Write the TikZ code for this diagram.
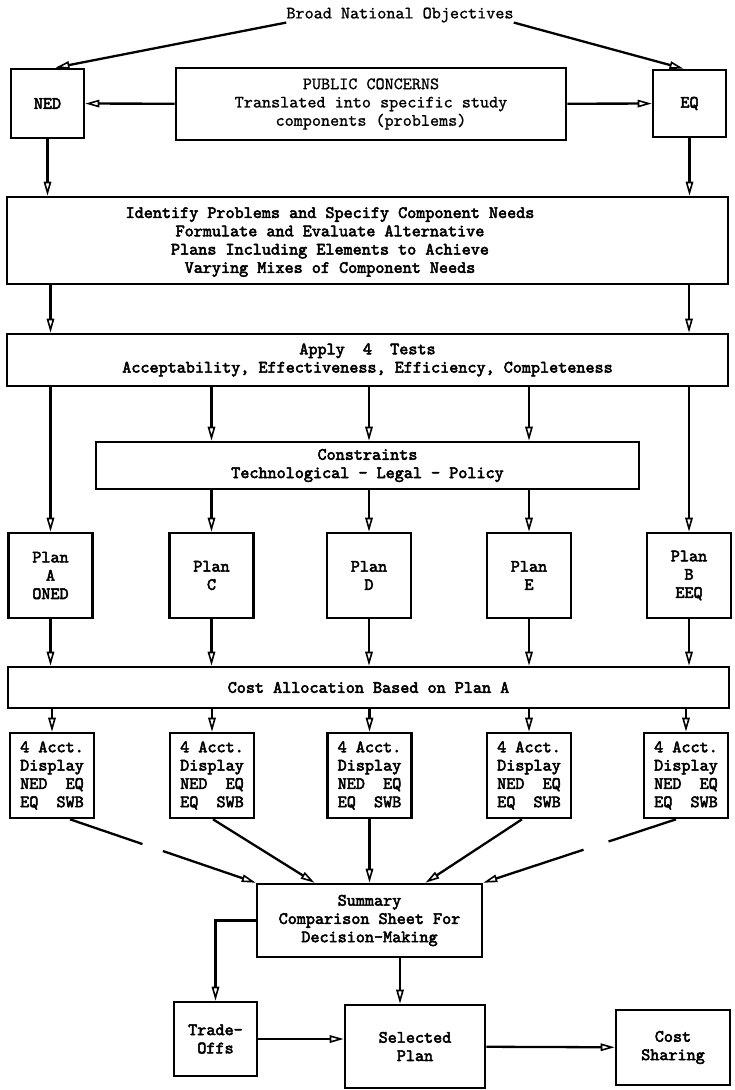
\documentclass[tikz,border=0pt]{standalone}
\usepackage{fontspec}
\setmonofont{lmmono10-regular.otf}[UprightFeatures={FakeBold=1},
  BoldFont=lmmono10-regular.otf,BoldFeatures={FakeBold=3}]
\usetikzlibrary{positioning,calc,arrows.meta}

\begin{document}
\begin{tikzpicture}[
  x=1pt,y=-1pt,
  every node/.style={font=\ttfamily\fontsize{17.3}{18.3}\selectfont,align=center,inner sep=0pt},
  heavy/.style={font=\ttfamily\bfseries\fontsize{17.3}{18.3}\selectfont},
  box/.style={draw,line width=2.6pt},
  plan_box/.style={box,heavy,minimum width=84pt,minimum height=85pt},
  acct_box/.style={box,heavy,minimum width=84pt,minimum height=85pt},
  arr/.style={line width=2.3pt,-{Triangle[open,length=14pt,width=7.5pt,line width=1.6pt]}},
  seg/.style={line width=2.3pt}
  ]
  \useasboundingbox[fill=white] (0,0) rectangle (734,1090);

  \node (Title) at (400,15) {Broad National Objectives};
  \node[box,heavy,minimum width=73pt,minimum height=69pt] (NED) at (47.5,103.5) {NED};
  \node[box,minimum width=390pt,minimum height=72pt] (Pub) at (371,104)
    {PUBLIC CONCERNS\\Translated into specific study\\components (problems)};
  \node[box,heavy,minimum width=73pt,minimum height=67pt] (EQ) at (689.5,103.5) {EQ};

  \node[box,minimum width=721pt,minimum height=87pt] (Ident) at (367.5,240.5) {};
  \node[heavy] (IdentTxt) at (330,242)
    {Identify Problems and Specify Component Needs\\Formulate and Evaluate Alternative\\
     Plans Including Elements to Achieve\\Varying Mixes of Component Needs};

  \node[box,heavy,minimum width=721pt,minimum height=52pt] (Tests) at (367.5,360)
    {Apply~~4~~Tests\\Acceptability, Effectiveness, Efficiency, Completeness};
  \node[box,heavy,minimum width=543pt,minimum height=47pt] (Constr) at (367.5,465.5)
    {Constraints\\Technological - Legal - Policy};

  \node[plan_box] (PlanA) at (50.5,575.5) {Plan\\A\\ONED};
  \node[plan_box] (PlanC) at (211.5,575.5) {Plan\\C};
  \node[plan_box] (PlanD) at (369,575.5) {Plan\\D};
  \node[plan_box] (PlanE) at (529,575.5) {Plan\\E};
  \node[plan_box] (PlanB) at (689,575.5) {Plan\\B\\EEQ};

  \node[box,heavy,minimum width=721pt,minimum height=41pt] (Alloc) at (368.5,687.5)
    {Cost Allocation Based on Plan A};

  \foreach \n/\x in {A/52,C/212,D/369.5,E/529,B/686}
    \node[acct_box] (Acct\n) at (\x,775.5) {4 Acct.\\Display\\NED~~EQ\\EQ~~SWB};

  \node[box,heavy,minimum width=225pt,minimum height=73pt] (Summ) at (369.5,920.5)
    {Summary\\Comparison Sheet For\\Decision-Making};
  \node[box,heavy,minimum width=83pt,minimum height=74pt] (Trade) at (215.5,1039) {Trade-\\Offs};
  \node[box,heavy,minimum width=140pt,minimum height=83pt] (Sel) at (415,1046.5) {Selected\\Plan};
  \node[box,heavy,minimum width=114pt,minimum height=75pt] (Share) at (673,1047.5) {Cost\\Sharing};

  \draw[arr] (Title.south west) -- ([xshift=8pt]NED.north);
  \draw[arr] (Title.south east) -- ([xshift=-6pt]EQ.north);
  \draw[arr] (Pub) -- (NED);
  \draw[arr] (Pub) -- (EQ);
  \draw[arr] (NED) -- (NED |- Ident.north);
  \draw[arr] (EQ) -- (EQ |- Ident.north);

  \foreach \n in {A,B} {
    \draw[arr] (Plan\n |- Ident.south) -- (Plan\n |- Tests.north);
    \draw[arr] (Plan\n |- Tests.south) -- (Plan\n);
  }
  \foreach \n in {C,D,E} {
    \draw[arr] (Plan\n |- Tests.south) -- (Plan\n |- Constr.north);
    \draw[arr] (Plan\n |- Constr.south) -- (Plan\n);
  }
  \foreach \n in {A,C,D,E,B} {
    \draw[arr] (Plan\n) -- (Plan\n |- Alloc.north);
    \draw[arr] (Acct\n |- Alloc.south) -- (Acct\n);
  }

  \coordinate (OutA) at ([xshift=18pt]AcctA.south);
  \coordinate (OutB) at ([xshift=-10pt]AcctB.south);
  \draw[seg] (OutA) -- ($(OutA)!0.39!(Summ.north west)$);
  \draw[arr] ($(OutA)!0.5!(Summ.north west)$) -- (Summ.north west);
  \draw[arr] ([xshift=1pt]AcctC.south) -- ([xshift=-55pt]Summ.north);
  \draw[arr] (AcctD) -- (Summ);
  \draw[arr] ([xshift=-7pt]AcctE.south) -- ([xshift=56pt]Summ.north);
  \draw[seg] (OutB) -- ($(OutB)!0.35!(Summ.north east)$);
  \draw[arr] ($(OutB)!0.48!(Summ.north east)$) -- (Summ.north east);

  \draw[arr] (Summ.west) -| (Trade.north);
  \draw[arr] ([xshift=-15pt]Sel.north |- Summ.south) -- ([xshift=-15pt]Sel.north);
  \draw[arr] (Trade) -- (Trade -| Sel.west);
  \draw[arr] (Sel) -- (Share);
\end{tikzpicture}
\end{document}
